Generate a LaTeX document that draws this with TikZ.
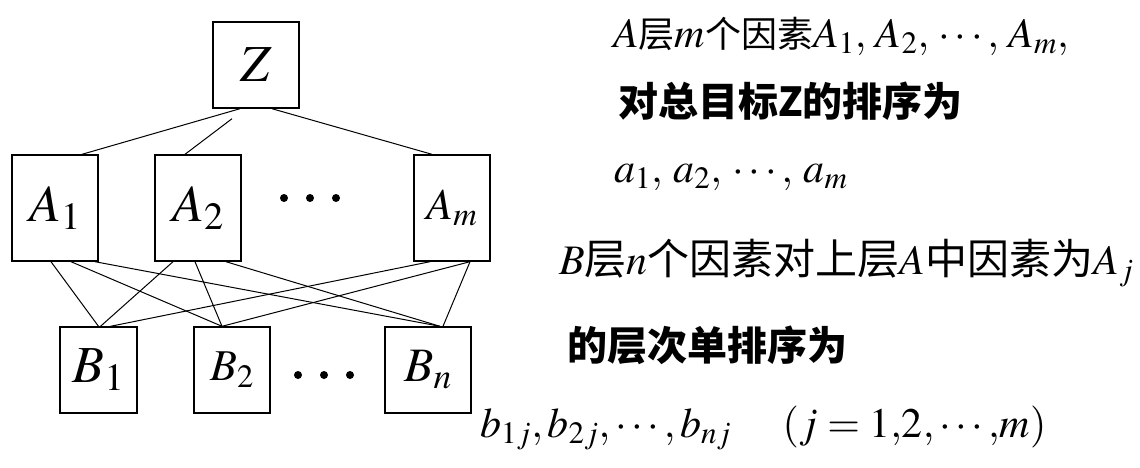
\documentclass[tikz,border=0pt]{standalone}
\usepackage{mathptmx}
\usepackage[no-math]{fontspec}
\setmainfont{Liberation Serif}
\newfontfamily\cjk{Noto Sans CJK SC}
\newcommand\Zh[2]{{\cjk\fontsize{#1}{#1}\selectfont #2}}
\newcommand\Zb[2]{{\cjk\bfseries\fontsize{#1}{#1}\selectfont #2}}
\tikzset{
  box/.style={draw, line width=1.4pt, inner sep=0pt, anchor=center},
  link/.style={line width=1pt},
  txt/.style={anchor=base west, inner sep=0pt},
  mtxt/.style={txt, font=\fontsize{42}{42}\selectfont},
  bigm/.style={font=\fontsize{52}{52}\selectfont},
  midm/.style={font=\fontsize{44}{44}\selectfont},
  dot/.style={fill=black},
}
\begin{document}
\begin{tikzpicture}[x=1pt,y=-1pt]
\useasboundingbox (0,0) rectangle (1140,467);
% boxes
\node[box, bigm, minimum width=86pt, minimum height=86pt] (Z) at (256,65) {$Z$};
\node[box, bigm, minimum width=86pt, minimum height=106pt] (A1) at (55,208) {$A_1$};
\node[box, bigm, minimum width=86pt, minimum height=106pt] (A2) at (198,208) {$A_2$};
\node[box, midm, minimum width=76pt, minimum height=106pt] (Am) at (452,208) {$A_m$};
\node[box, bigm, minimum width=77pt, minimum height=86pt] (B1) at (98.5,370) {$B_1$};
\node[box, midm, minimum width=76pt, minimum height=86pt] (B2) at (232,370) {$B_2$};
\node[box, font=\fontsize{48}{48}\selectfont, minimum width=86pt, minimum height=86pt] (Bn) at (428,370) {$B_n$};
% dots
\fill[dot] (284,198) circle[radius=4pt] (310,198) circle[radius=4pt] (336,198) circle[radius=4pt];
\fill[dot] (298,375) circle[radius=4pt] (324,375) circle[radius=4pt] (350,375) circle[radius=4pt];
% Z to A
\coordinate (zgap) at ([xshift=-24pt,yshift=-10pt]Z.south);
\draw[link] ([xshift=-16pt]Z.south) -- ([xshift=27pt]A1.north);
\draw[link] (zgap) -- ([xshift=-13pt]A2.north);
\draw[link] ([xshift=16pt]Z.south) -- ([xshift=-20pt]Am.north);
% A to B
\draw[link] ([xshift=-4pt]A1.south) -- ([xshift=0pt]B1.north);
\draw[link] ([xshift=16pt]A1.south) -- ([xshift=-10pt]B2.north);
\draw[link] ([xshift=40pt]A1.south) -- ([xshift=12pt]Bn.north);
\draw[link] ([xshift=-25pt]A2.south) -- ([xshift=2pt]B1.north);
\draw[link] ([xshift=-3pt]A2.south) -- ([xshift=-10pt]B2.north);
\draw[link] ([xshift=28pt]A2.south) -- ([xshift=12pt]Bn.north);
\draw[link] ([xshift=-22pt]Am.south) -- ([xshift=12pt]B1.north);
\draw[link] ([xshift=18pt]Am.south) -- ([xshift=-10pt]B2.north);
\draw[link] ([xshift=18pt]Am.south) -- ([xshift=15pt]Bn.north);
% right texts
\node[mtxt] (t1) at (613,47)
  {$A$\Zh{36}{层}$m$\Zh{36}{个因素}$A_1,\mskip2mu A_2,\mskip2mu \cdots,\mskip2mu A_m,$};
\node[txt] (t2) at (618,116) {\Zb{40}{对总目标Z的排序为}};
\node[mtxt] (t3) at (614,182) {$a_1,\: a_2,\: \cdots,\: a_m$};
\node[mtxt] (t4) at (559,274)
  {$B$\Zh{42}{层}$n$\Zh{42}{个因素对上层}$A$\Zh{42}{中因素为}$A_j$};
\node[txt] (t5) at (567,360) {\Zb{40}{的层次单排序为}};
\node[mtxt] (t6) at (480,437)
  {$b_{1j}, b_{2j}, \cdots, b_{nj} \quad\; (j = 1{,}2{,}\cdots{,}m)$};
\end{tikzpicture}
\end{document}
